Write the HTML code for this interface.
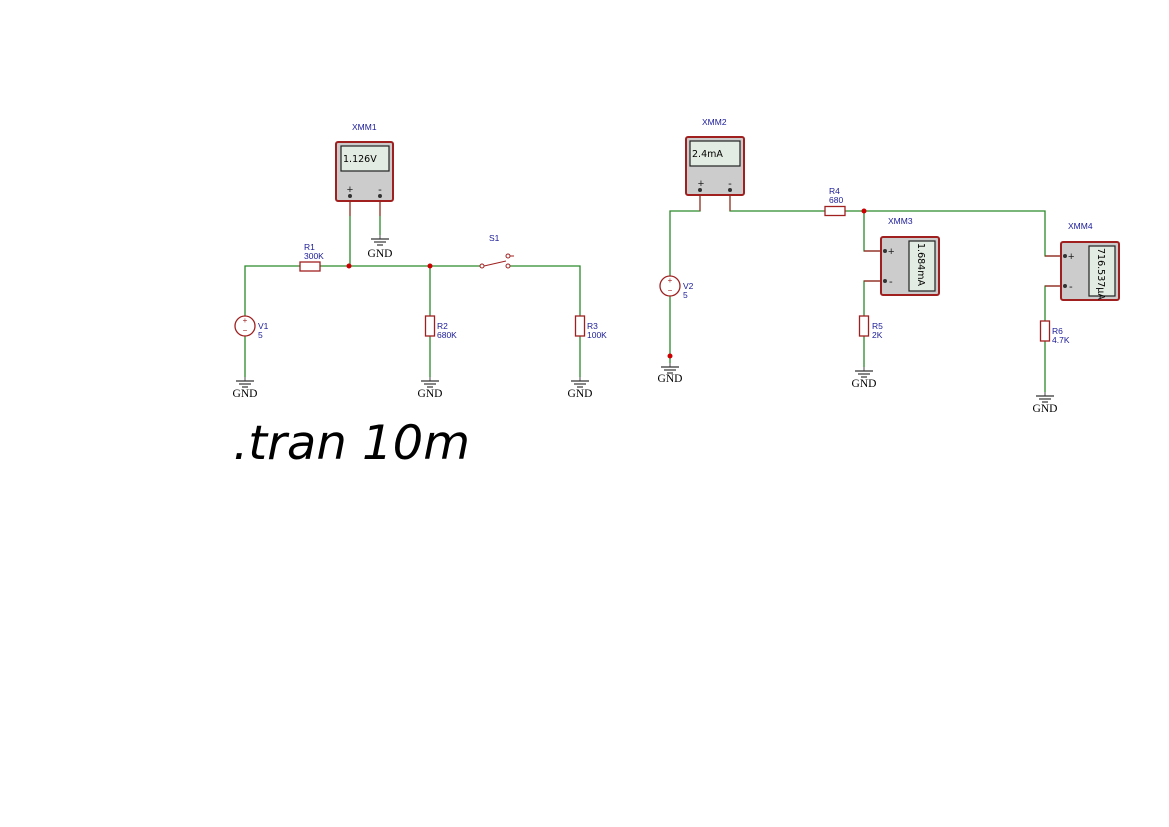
<!DOCTYPE html>
<html><head><meta charset="utf-8"><style>html,body{margin:0;padding:0;background:#fff}svg{display:block}</style></head><body>
<svg width="1169" height="827" viewBox="0 0 1169 827" xmlns="http://www.w3.org/2000/svg">
<defs>
<g id="gnd"><line x1="0" y1="0" x2="0" y2="4" stroke="#666" stroke-width="1.2"/><line x1="-9" y1="4" x2="9" y2="4" stroke="#333" stroke-width="1.2"/><line x1="-6" y1="7" x2="6" y2="7" stroke="#333" stroke-width="1.2"/><line x1="-3" y1="10" x2="3" y2="10" stroke="#333" stroke-width="1.2"/></g>
</defs>
<g fill="none" stroke-width="1.3">
<polyline points="245,316 245,266 300,266" stroke="#2a8a2a"/>
<line x1="320" y1="266" x2="482" y2="266" stroke="#2a8a2a"/>
<polyline points="509,266 580,266 580,316" stroke="#2a8a2a"/>
<line x1="430" y1="266" x2="430" y2="316" stroke="#2a8a2a"/>
<line x1="245" y1="336" x2="245" y2="377" stroke="#2a8a2a"/>
<line x1="430" y1="336" x2="430" y2="377" stroke="#2a8a2a"/>
<line x1="580" y1="336" x2="580" y2="377" stroke="#2a8a2a"/>
<line x1="350" y1="196" x2="350" y2="266" stroke="#2a8a2a"/>
<line x1="380" y1="196" x2="380" y2="235" stroke="#2a8a2a"/>
<line x1="350" y1="196" x2="350" y2="216" stroke="#b04040"/>
<line x1="380" y1="196" x2="380" y2="216" stroke="#b04040"/>
<polyline points="700,190 700,211 670,211 670,276" stroke="#2a8a2a"/>
<line x1="670" y1="296" x2="670" y2="363" stroke="#2a8a2a"/>
<polyline points="730,190 730,211 825,211" stroke="#2a8a2a"/>
<polyline points="845,211 1045,211 1045,256 1065,256" stroke="#2a8a2a"/>
<polyline points="864,211 864,251 885,251" stroke="#2a8a2a"/>
<polyline points="885,281 864,281 864,316" stroke="#2a8a2a"/>
<line x1="864" y1="336" x2="864" y2="367" stroke="#2a8a2a"/>
<polyline points="1065,286 1045,286 1045,321" stroke="#2a8a2a"/>
<line x1="1045" y1="341" x2="1045" y2="392" stroke="#2a8a2a"/>
<polyline points="700,190 700,211" stroke="#b04040"/>
<polyline points="730,190 730,211" stroke="#b04040"/>
<line x1="864" y1="251" x2="885" y2="251" stroke="#a02020"/>
<line x1="864" y1="281" x2="885" y2="281" stroke="#a02020"/>
<line x1="1045" y1="256" x2="1065" y2="256" stroke="#a02020"/>
<line x1="1045" y1="286" x2="1065" y2="286" stroke="#a02020"/>
<g stroke="#a02020" fill="#fff">
<rect x="300" y="262" width="20" height="9"/>
<rect x="425.5" y="316" width="9" height="20"/>
<rect x="575.5" y="316" width="9" height="20"/>
<rect x="825" y="206.5" width="20" height="9"/>
<rect x="859.5" y="316" width="9" height="20"/>
<rect x="1040.5" y="321" width="9" height="20"/>
<circle cx="245" cy="326" r="10"/>
<circle cx="670" cy="286" r="10"/>
</g>
<g stroke="#a02020" fill="#fff" stroke-width="1">
<circle cx="482" cy="266" r="2"/><circle cx="508" cy="266" r="2"/><circle cx="508" cy="256" r="2"/>
<line x1="484" y1="266" x2="506" y2="261"/><line x1="510" y1="256" x2="514" y2="256"/>
</g>
</g>
<g fill="#a02020" font-family="Liberation Sans, sans-serif" font-size="8" text-anchor="middle">
<text x="245" y="323">+</text><text x="245" y="333">−</text>
<text x="670" y="283">+</text><text x="670" y="293">−</text>
</g>
<g fill="#cc0000"><circle cx="349" cy="266" r="2.5"/><circle cx="430" cy="266" r="2.5"/><circle cx="864" cy="211" r="2.5"/><circle cx="670" cy="356" r="2.5"/></g>
<use href="#gnd" x="245" y="377"/><use href="#gnd" x="430" y="377"/><use href="#gnd" x="580" y="377"/><use href="#gnd" x="380" y="235"/>
<use href="#gnd" x="670" y="363"/><use href="#gnd" x="864" y="367"/><use href="#gnd" x="1045" y="392"/>
<g font-family="Liberation Serif, serif" font-size="11.5" text-anchor="middle" fill="#000">
<text x="245" y="397">GND</text><text x="430" y="397">GND</text><text x="580" y="397">GND</text><text x="380" y="257">GND</text>
<text x="670" y="382">GND</text><text x="864" y="387">GND</text><text x="1045" y="412">GND</text>
</g>
<g stroke="#a02020" stroke-width="2" fill="#cccccc">
<rect x="336" y="142" width="57" height="59" rx="2"/>
<rect x="686" y="137" width="58" height="58" rx="2"/>
<rect x="881" y="237" width="58" height="58" rx="2"/>
<rect x="1061" y="242" width="58" height="58" rx="2"/>
</g>
<g stroke="#222" stroke-width="1.2" fill="#e2ece2">
<rect x="341" y="146" width="48" height="25"/>
<rect x="690" y="141" width="50" height="25"/>
<rect x="909" y="241" width="26" height="50"/>
<rect x="1089" y="246" width="26" height="50"/>
</g>
<g fill="#333"><circle cx="350" cy="196" r="2"/><circle cx="380" cy="196" r="2"/><circle cx="700" cy="190" r="2"/><circle cx="730" cy="190" r="2"/><circle cx="885" cy="251" r="2"/><circle cx="885" cy="281" r="2"/><circle cx="1065" cy="256" r="2"/><circle cx="1065" cy="286" r="2"/></g>
<g font-family="Liberation Sans, sans-serif" font-size="11" fill="#222">
<text x="350" y="193" text-anchor="middle">+</text><text x="380" y="193" text-anchor="middle">-</text>
<text x="701" y="187" text-anchor="middle">+</text><text x="730" y="187" text-anchor="middle">-</text>
<text x="888" y="255">+</text><text x="889" y="285">-</text>
<text x="1068" y="260">+</text><text x="1069" y="290">-</text>
</g>
<g font-family="DejaVu Sans, sans-serif" font-size="9.5" fill="#000">
<text x="343" y="162">1.126V</text>
<text x="692" y="157">2.4mA</text>
<text transform="translate(918,243) rotate(90)">1.684mA</text>
<text transform="translate(1098,248) rotate(90)">716.537μA</text>
</g>
<g font-family="Liberation Sans, sans-serif" font-size="8.5" fill="#1a1a99">
<text x="352" y="130">XMM1</text><text x="702" y="125">XMM2</text><text x="888" y="224">XMM3</text><text x="1068" y="229">XMM4</text>
<text x="304" y="250">R1</text><text x="304" y="259">300K</text>
<text x="489" y="241">S1</text>
<text x="258" y="329">V1</text><text x="258" y="338">5</text>
<text x="437" y="329">R2</text><text x="437" y="338">680K</text>
<text x="587" y="329">R3</text><text x="587" y="338">100K</text>
<text x="829" y="194">R4</text><text x="829" y="203">680</text>
<text x="683" y="289">V2</text><text x="683" y="298">5</text>
<text x="872" y="329">R5</text><text x="872" y="338">2K</text>
<text x="1052" y="334">R6</text><text x="1052" y="343">4.7K</text>
</g>
<text x="233" y="459" font-family="DejaVu Sans, sans-serif" font-style="oblique" font-size="47" fill="#000" textLength="237" lengthAdjust="spacingAndGlyphs">.tran 10m</text>
</svg>
</body></html>
